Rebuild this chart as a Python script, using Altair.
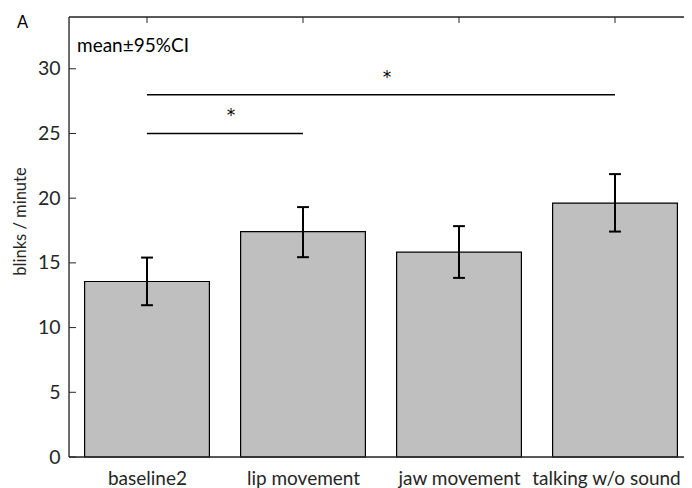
import json
import altair as alt
import pandas as pd

# ---- data ----
categories = ["baseline2", "lip movement", "jaw movement", "talking w/o sound"]
means = [13.56, 17.42, 15.83, 19.62]
ci_low = [11.73, 15.44, 13.84, 17.42]
ci_high = [15.41, 19.31, 17.84, 21.86]
sig_from = [1, 1]
sig_to = [2, 4]
sig_level = [25.0, 28.0]
sig_label = ["*", "*"]
y_ticks = [0, 5, 10, 15, 20, 25, 30]

UNIT = 156          # px per category step
W, H = 615, 440     # plot area (right edge of the original box is cut off by the window)
FONT = "Lato"
INK = "#262626"

pos = list(range(1, len(categories) + 1))
bars_df = pd.DataFrame({"pos": pos, "cat": categories, "mean": means, "lo": ci_low, "hi": ci_high})
sig_df = pd.DataFrame({"x1": sig_from, "x2": sig_to, "y": sig_level, "t": sig_label})
sig_df["xm"] = (sig_df["x1"] + sig_df["x2"]) / 2
tick_df = pd.DataFrame({"v": y_ticks})
pos_df = pd.DataFrame({"pos": pos})

xscale = alt.Scale(domain=[0.5, 0.5 + W / UNIT], nice=False, zero=False)
yscale = alt.Scale(domain=[0, 34], nice=False)
label_expr = json.dumps(categories) + "[datum.value - 1]"
last_pos = pos[-1]

bars = (
    alt.Chart(bars_df)
    .transform_calculate(a="datum.pos - 0.4", b="datum.pos + 0.4")
    .mark_bar(fill="#bfbfbf", stroke="black", strokeWidth=1.2)
    .encode(
        x=alt.X("a:Q", scale=xscale,
                axis=alt.Axis(values=pos, labelExpr=label_expr, ticks=False, tickSize=0,
                              domain=False, grid=False, title=None, labelFontSize=19,
                              labelPadding=12, labelColor=INK, labelFont=FONT,
                              labelOverlap=False, labelBound=False, labelFlush=False,
                              labelOffset={"condition": {"test": f"datum.value == {last_pos}",
                                                         "value": -9}, "value": 0})),
        x2="b:Q",
        y=alt.Y("mean:Q", scale=yscale,
                axis=alt.Axis(values=y_ticks, ticks=False, tickSize=0, domain=False, grid=False,
                              title="blinks / minute", labelFontSize=19.5, labelPadding=9,
                              labelColor=INK, labelFont=FONT, titleFont=FONT, titleFontSize=16.5,
                              titleFontWeight="normal", titleColor=INK, titleX=-49, titleY=204,
                              titleAngle=270, titleAlign="center", titleBaseline="middle")),
        y2=alt.datum(0),
    )
)

err = (
    alt.Chart(bars_df)
    .mark_rule(color="black", strokeWidth=2)
    .encode(x=alt.X("pos:Q", scale=xscale), y=alt.Y("lo:Q", scale=yscale), y2="hi:Q")
)
caps_base = alt.Chart(bars_df).transform_calculate(a="datum.pos - 0.038", b="datum.pos + 0.038")
cap_lo = caps_base.mark_rule(color="black", strokeWidth=2).encode(
    x=alt.X("a:Q", scale=xscale), x2="b:Q", y=alt.Y("lo:Q", scale=yscale))
cap_hi = caps_base.mark_rule(color="black", strokeWidth=2).encode(
    x=alt.X("a:Q", scale=xscale), x2="b:Q", y=alt.Y("hi:Q", scale=yscale))

sig_lines = alt.Chart(sig_df).mark_rule(color="black", strokeWidth=1.5).encode(
    x=alt.X("x1:Q", scale=xscale), x2="x2:Q", y=alt.Y("y:Q", scale=yscale))
sig_stars = alt.Chart(sig_df).mark_text(font="DejaVu Sans", fontSize=17, color="#000000",
                                        dx=6, dy=-12, baseline="alphabetic").encode(
    x=alt.X("xm:Q", scale=xscale), y=alt.Y("y:Q", scale=yscale), text="t:N")

# box lines (left, top, bottom) and inward ticks
frame_left = alt.Chart(pos_df.head(1)).mark_rule(color=INK, strokeWidth=1.3).encode(
    x=alt.value(0), y=alt.value(0), y2=alt.value(H))
frame_top = alt.Chart(pos_df.head(1)).mark_rule(color=INK, strokeWidth=1.3).encode(
    x=alt.value(0), x2=alt.value(W), y=alt.value(0))
frame_bottom = alt.Chart(pos_df.head(1)).mark_rule(color=INK, strokeWidth=1.3).encode(
    x=alt.value(0), x2=alt.value(W), y=alt.value(H))
left_ticks = alt.Chart(tick_df).mark_rule(color=INK, strokeWidth=1).encode(
    x=alt.value(0), x2=alt.value(7), y=alt.Y("v:Q", scale=yscale))
top_ticks = alt.Chart(pos_df).mark_rule(color=INK, strokeWidth=1).encode(
    x=alt.X("pos:Q", scale=xscale), y=alt.value(0), y2=alt.value(6))

panel_letter = alt.Chart(pd.DataFrame({"t": ["A"]})).mark_text(
    font=FONT, fontSize=16.5, color="black", align="left", baseline="alphabetic").encode(
    x=alt.value(-52), y=alt.value(11), text="t:N")
stat_note = alt.Chart(pd.DataFrame({"t": ["mean±95%CI"]})).mark_text(
    font=FONT, fontSize=19, color="black", align="left", baseline="alphabetic").encode(
    x=alt.value(8), y=alt.value(34.5), text="t:N")

chart = (
    alt.layer(left_ticks, top_ticks, bars, err, cap_lo, cap_hi,
              sig_lines, sig_stars, frame_left, frame_top, frame_bottom,
              panel_letter, stat_note)
    .properties(width=W, height=H, autosize=alt.AutoSizeParams(type="none"),
                padding={"left": 61, "top": 9, "right": 0, "bottom": 40})
    .configure_view(strokeWidth=0)
    .configure(background="white")
)

chart.save("out.html", embed_options={"renderer": "svg", "actions": False})
